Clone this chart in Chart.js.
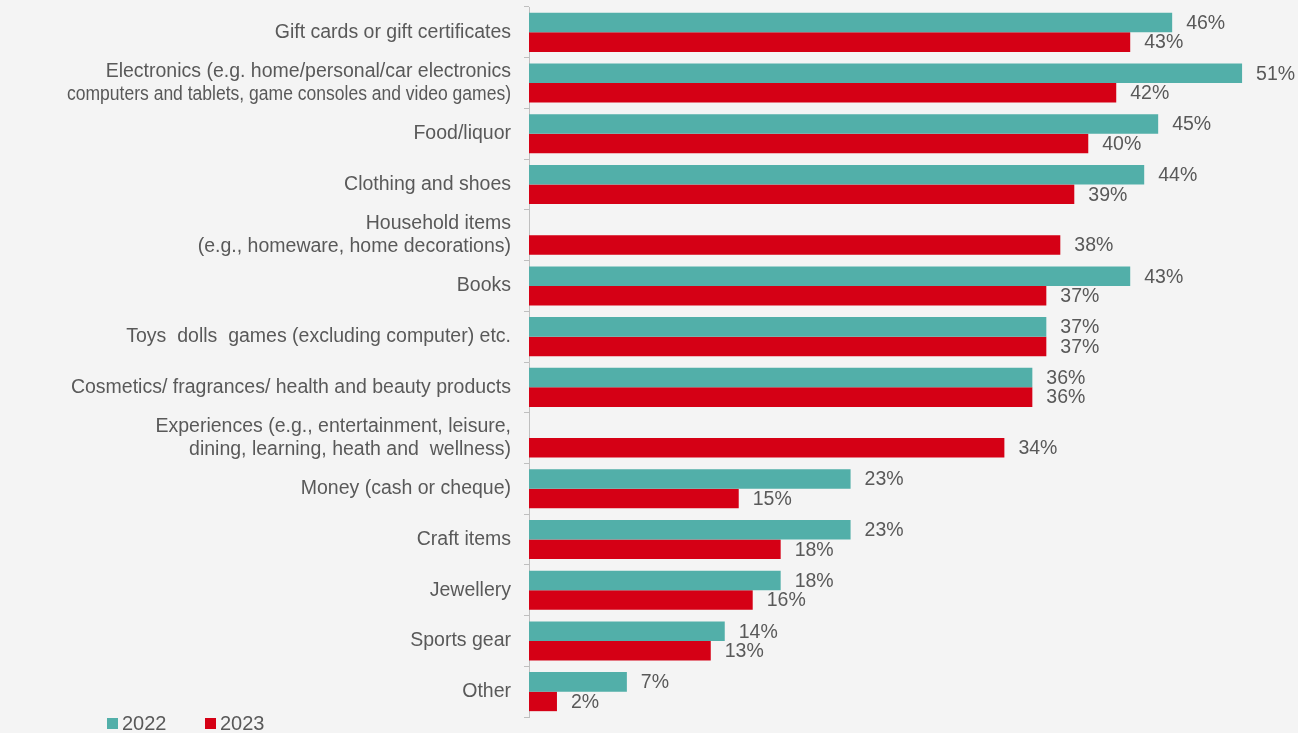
<!DOCTYPE html>
<html>
<head>
<meta charset="utf-8">
<script src="https://cdn.jsdelivr.net/npm/chart.js@4.4.1/dist/chart.umd.min.js"></script>
<style>
	html, body {
		margin: 0;
		padding: 0;
		background: #f4f4f4;
	}
	#wrap {
		width: 1298px;
		height: 733px;
	}
</style>
</head>
<body>
<div id="wrap"><canvas id="data"></canvas></div>
<script>
const categories = [
	"Gift cards or gift certificates",
	["Electronics (e.g. home/personal/car electronics", "computers and tablets, game consoles and video games)"],
	"Food/liquor",
	"Clothing and shoes",
	["Household items", "(e.g., homeware, home decorations)"],
	"Books",
	"Toys  dolls  games (excluding computer) etc.",
	"Cosmetics/ fragrances/ health and beauty products",
	["Experiences (e.g., entertainment, leisure,", "dining, learning, heath and  wellness)"],
	"Money (cash or cheque)",
	"Craft items",
	"Jewellery",
	"Sports gear",
	"Other"
];

const values2022 = [46, 51, 45, 44, null, 43, 37, 36, null, 23, 23, 18, 14, 7];
const values2023 = [43, 42, 40, 39, 38, 37, 37, 36, 34, 15, 18, 16, 13, 2];

const seriesLabels = ["2022", "2023"];

const TEXT = "#595959";
const FONT = "Liberation Sans, Arial, sans-serif";
const LABEL_MAX_WIDTH = 444;

// paint the grey page behind the chart
const background = {
	id: "background",
	beforeDraw(chart) {
		const { ctx, width, height } = chart;
		ctx.save();
		ctx.fillStyle = "#f4f4f4";
		ctx.fillRect(0, 0, width, height);
		ctx.restore();
	}
};

// category names, squeezed a little when a line runs too long
const categoryLabels = {
	id: "categoryLabels",
	afterDraw(chart) {
		const { ctx } = chart;
		const scale = chart.scales.y;
		const right = scale.right - 5 - 13;
		const lineH = 23;
		ctx.save();
		ctx.font = "19.5px " + FONT;
		ctx.fillStyle = TEXT;
		ctx.textAlign = "right";
		ctx.textBaseline = "middle";
		chart.data.labels.forEach((label, i) => {
			const lines = Array.isArray(label) ? label : [label];
			const mid = scale.getPixelForTick(i);
			lines.forEach((line, k) => {
				const y = mid + (k - (lines.length - 1) / 2) * lineH;
				ctx.fillText(line, right, y, LABEL_MAX_WIDTH);
			});
		});
		ctx.restore();
	}
};

// percentage next to the end of every bar
const valueLabels = {
	id: "valueLabels",
	afterDatasetsDraw(chart) {
		const { ctx } = chart;
		ctx.save();
		ctx.font = "19.5px " + FONT;
		ctx.fillStyle = TEXT;
		ctx.textAlign = "left";
		ctx.textBaseline = "middle";
		chart.data.datasets.forEach((ds, i) => {
			const meta = chart.getDatasetMeta(i);
			meta.data.forEach((bar, j) => {
				const v = ds.data[j];
				if (v === null || v === undefined) return;
				ctx.fillText(v + "%", bar.x + 14, bar.y + 1);
			});
		});
		ctx.restore();
	}
};

// small legend in the bottom left corner
const cornerLegend = {
	id: "cornerLegend",
	afterDraw(chart) {
		const { ctx } = chart;
		ctx.save();
		ctx.font = "20px " + FONT;
		ctx.textBaseline = "middle";
		let x = 107;
		const y = 724;
		chart.data.datasets.forEach((ds) => {
			ctx.fillStyle = ds.backgroundColor;
			ctx.fillRect(x, y - 6, 11, 11);
			ctx.fillStyle = TEXT;
			ctx.fillText(ds.label, x + 15, y);
			x += 98;
		});
		ctx.restore();
	}
};

const options = {
	indexAxis: "y",
	responsive: true,
	maintainAspectRatio: false,
	animation: false,
	layout: {
		padding: { top: 7, bottom: 16, left: 0, right: 0 }
	},
	datasets: {
		bar: {
			categoryPercentage: 0.77,
			barPercentage: 1
		}
	},
	scales: {
		x: {
			min: 0,
			max: 55,
			display: false
		},
		y: {
			grid: {
				drawOnChartArea: false,
				tickLength: 5,
				color: "#bfbfbf"
			},
			border: {
				display: true,
				color: "#bfbfbf"
			},
			ticks: {
				display: false
			},
			afterFit(scale) {
				scale.width = 529;
				scale.paddingTop = 0;
				scale.paddingBottom = 0;
			}
		}
	},
	plugins: {
		tooltip: {
			enabled: false
		},
		legend: {
			display: false
		}
	}
};

const ctx = document.getElementById("data");

new Chart(ctx, {
	type: "bar",
	options: options,
	plugins: [background, categoryLabels, valueLabels, cornerLegend],
	data: {
		labels: categories,
		datasets: [
			{
				label: seriesLabels[0],
				data: values2022,
				backgroundColor: "#52afa9"
			},
			{
				label: seriesLabels[1],
				data: values2023,
				backgroundColor: "#d50015"
			}
		]
	}
});
</script>
</body>
</html>
